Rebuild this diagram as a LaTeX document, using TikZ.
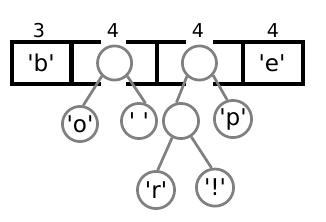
\documentclass[tikz,border=0pt]{standalone}
\usepackage{fontspec}
\setmainfont{DejaVu Sans}
\usepackage{xcolor}
\usepackage{tikz}
\definecolor{RopeGray}{HTML}{808080}
\definecolor{RopeBlack}{HTML}{000000}
\newcommand{\qch}[1]{\textquotesingle#1\textquotesingle}

\begin{document}
\begin{tikzpicture}[x=1cm,y=1cm,
  ring/.style={circle,draw=RopeGray,line width=2.7pt,minimum size=34pt,inner sep=0pt,fill=white},
  wire/.style={RopeGray,line width=2.7pt},
  cellbox/.style={RopeBlack,line width=4.5pt},
  lbl/.style={font=\fontsize{23}{26}\selectfont},
  num/.style={font=\fontsize{19}{22}\selectfont}]
\path[use as bounding box] (0,0) rectangle (11.41,7.735);
\draw[cellbox] (3.535,6.265) -- (0.42,6.265) -- (0.42,4.795) -- (3.535,4.795);
\draw[cellbox] (4.41,6.265) -- (6.51,6.265);
\draw[cellbox] (4.41,4.795) -- (6.51,4.795);
\draw[cellbox] (7.455,6.265) -- (10.605,6.265) -- (10.605,4.795) -- (7.455,4.795);
\draw[cellbox] (2.50,6.265) -- (2.50,4.795);
\draw[cellbox] (5.495,6.265) -- (5.495,4.795);
\draw[cellbox] (8.505,6.265) -- (8.505,4.795);
\node[num] (w1) at (1.365,6.68) {3};
\node[num] (w2) at (3.955,6.68) {4};
\node[num] (w3) at (6.93,6.68) {4};
\node[num] (w4) at (9.555,6.68) {4};
\node[lbl] (b) at (1.435,5.53) {\qch{b}};
\node[lbl] (e) at (9.52,5.53) {\qch{e}};
\node[ring] (A) at (4.01,5.53) {};
\node[ring] (B) at (6.98,5.53) {};
\node[ring,lbl,minimum size=35pt] (o) at (2.80,3.395) {\qch{o}};
\node[ring,lbl,minimum size=35pt] (sp) at (4.865,3.50) {\qch{\ }};
\node[ring,minimum size=35pt] (C) at (6.335,3.50) {};
\node[ring,lbl,minimum size=37pt] (p) at (8.155,3.57) {\qch{p}};
\node[ring,lbl,minimum size=37pt] (r) at (5.46,1.085) {\qch{r}};
\node[ring,lbl,minimum size=37pt] (ex) at (7.525,1.17) {\qch{!}};
\draw[wire] (A.226) -- (o.80);
\draw[wire] (A.-46) -- (sp.70);
\draw[wire] (B.227) -- (C.104);
\draw[wire] (B.-42) -- (p.107);
\draw[wire] (C.-118) -- (r.85);
\draw[wire] (C.-57) -- (ex.100);
\end{tikzpicture}
\end{document}
